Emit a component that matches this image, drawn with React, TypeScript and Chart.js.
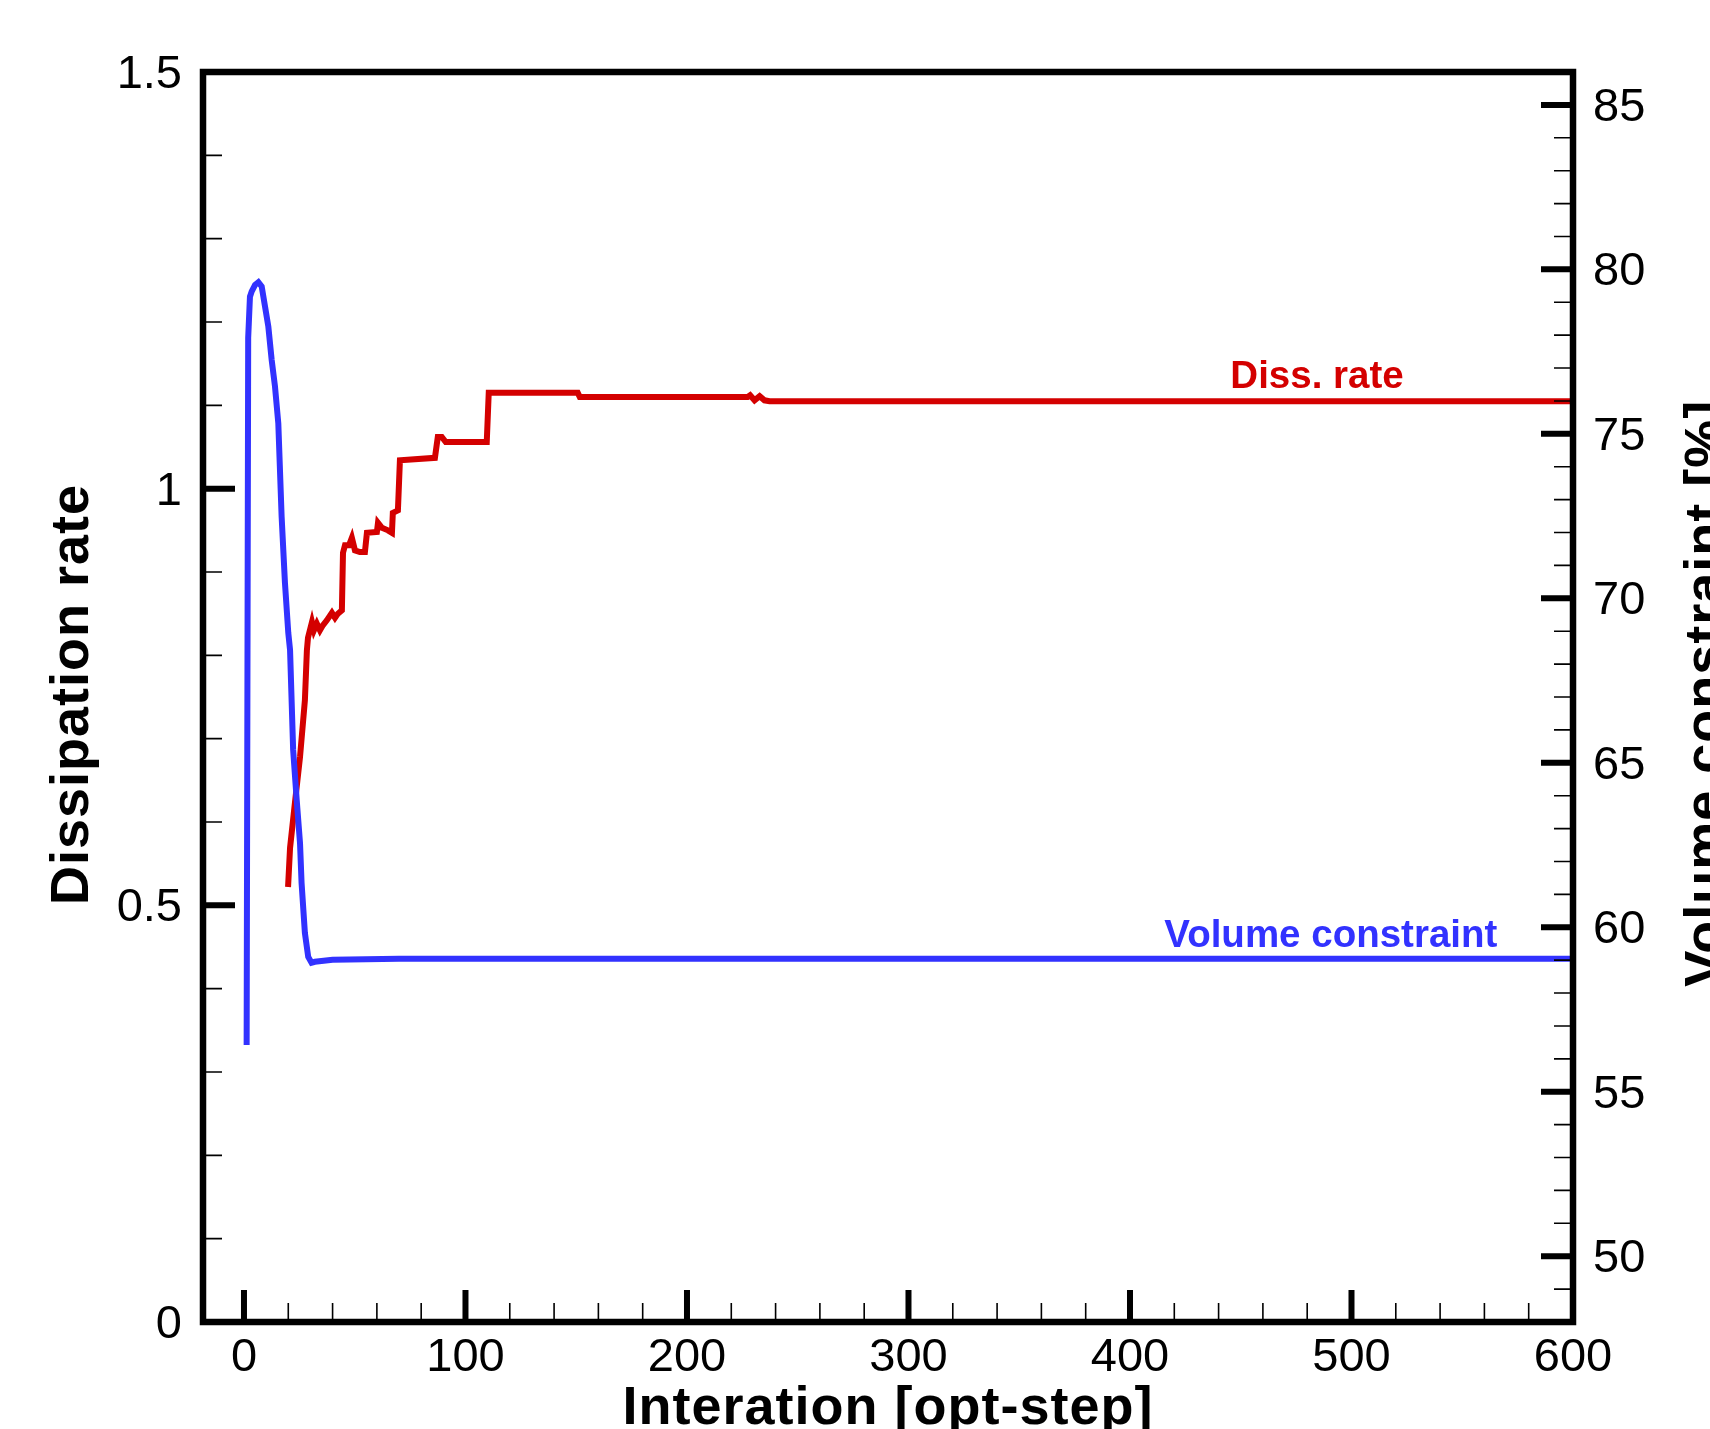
import React, { useEffect, useRef } from "react";
import { Chart, registerables } from "chart.js";

Chart.register(...registerables);

// ---- Data ----
const volIter = [1.2, 1.9, 2.7, 3.5, 5.0, 6.5, 8.0, 9.5, 11.0, 12.5, 14.0, 15.5, 17.0, 18.5, 20.0, 20.8, 22.2, 23.8, 25.3, 26.0, 27.5, 29.0, 30.5, 32.0, 40.0, 70.0, 160.0, 300.0, 450.0, 600.0];
const volValues = [56.42, 77.92, 79.17, 79.33, 79.53, 79.61, 79.48, 78.87, 78.26, 77.25, 76.44, 75.32, 72.48, 70.47, 68.95, 68.43, 65.39, 63.87, 62.56, 61.35, 59.83, 59.1, 58.92, 58.95, 59.01, 59.04, 59.04, 59.04, 59.04, 59.04];

const dissIter = [19.9, 20.8, 23.0, 25.3, 27.5, 28.4, 28.9, 30.7, 31.6, 32.9, 34.3, 35.6, 37.4, 39.7, 41.1, 42.4, 44.2, 44.7, 45.6, 47.4, 48.7, 50.1, 52.3, 54.6, 55.5, 60.0, 60.5, 62.3, 65.0, 66.8, 67.2, 69.5, 70.4, 86.2, 87.5, 89.3, 91.1, 109.6, 110.5, 150.7, 151.6, 227.4, 228.5, 230.5, 232.8, 235.0, 237.3, 600.0];
const dissValues = [0.522, 0.569, 0.623, 0.678, 0.746, 0.806, 0.821, 0.84, 0.83, 0.838, 0.83, 0.836, 0.842, 0.851, 0.845, 0.85, 0.854, 0.923, 0.932, 0.932, 0.941, 0.926, 0.924, 0.924, 0.947, 0.948, 0.959, 0.953, 0.95, 0.947, 0.971, 0.974, 1.034, 1.037, 1.062, 1.062, 1.056, 1.056, 1.115, 1.115, 1.11, 1.11, 1.112, 1.106, 1.111, 1.106, 1.105, 1.105];

const xTickValues = [0, 100, 200, 300, 400, 500, 600];
const leftTickValues = [0, 0.5, 1, 1.5];
const rightTickValues = [50, 55, 60, 65, 70, 75, 80, 85];

const xMinorStep = 20;
const leftMinorStep = 0.1;
const rightMinorStep = 1;

const xTitle = "Interation [opt-step]";
const leftTitle = "Dissipation rate";
const rightTitle = "Volume constraint [%]";

const annotTexts = ["Diss. rate", "Volume constraint"];
const annotX = [445.3, 415.5];
const annotY = [1.121, 59.4];
const annotAxis = ["y", "y1"];

const RED = "#d40000";
const BLUE = "#3232ff";
const FONT = '"Liberation Sans", Arial, Helvetica, sans-serif';

function minorValues(min: number, max: number, step: number, majors: number[]) {
  const out: number[] = [];
  const k0 = Math.ceil(min / step - 1e-9);
  const k1 = Math.floor(max / step + 1e-9);
  for (let k = k0; k <= k1; k++) {
    const v = k * step;
    if (!majors.some((m) => Math.abs(m - v) < step * 1e-3)) out.push(v);
  }
  return out;
}

const framePlugin = {
  id: "frameTicks",
  afterDatasetsDraw(chart: any) {
    const { ctx, chartArea, scales } = chart;
    const { left, right, top, bottom } = chartArea;
    const sx = scales.x, sy = scales.y, sy1 = scales.y1;
    ctx.save();
    ctx.strokeStyle = "#000";
    ctx.lineCap = "butt";

    // minor ticks
    ctx.lineWidth = 1.6;
    ctx.beginPath();
    minorValues(sx.min, sx.max, xMinorStep, xTickValues).forEach((v) => {
      const p = sx.getPixelForValue(v);
      ctx.moveTo(p, bottom);
      ctx.lineTo(p, bottom - 19);
    });
    minorValues(sy.min, sy.max, leftMinorStep, leftTickValues).forEach((v) => {
      const p = sy.getPixelForValue(v);
      ctx.moveTo(left, p);
      ctx.lineTo(left + 19, p);
    });
    minorValues(sy1.min, sy1.max, rightMinorStep, rightTickValues).forEach((v) => {
      const p = sy1.getPixelForValue(v);
      ctx.moveTo(right, p);
      ctx.lineTo(right - 19, p);
    });
    ctx.stroke();

    // major ticks
    ctx.lineWidth = 6;
    ctx.beginPath();
    xTickValues.forEach((v) => {
      const p = sx.getPixelForValue(v);
      ctx.moveTo(p, bottom);
      ctx.lineTo(p, bottom - 32);
    });
    leftTickValues.forEach((v) => {
      const p = sy.getPixelForValue(v);
      ctx.moveTo(left, p);
      ctx.lineTo(left + 32, p);
    });
    rightTickValues.forEach((v) => {
      const p = sy1.getPixelForValue(v);
      ctx.moveTo(right, p);
      ctx.lineTo(right - 32, p);
    });
    ctx.stroke();

    // frame
    ctx.lineWidth = 6.5;
    ctx.lineJoin = "miter";
    ctx.strokeRect(left, top, right - left, bottom - top);

    // annotations
    ctx.font = `bold 38.5px ${FONT}`;
    ctx.textAlign = "left";
    ctx.textBaseline = "alphabetic";
    annotTexts.forEach((t, i) => {
      const xs = sx.getPixelForValue(annotX[i]);
      const ys = scales[annotAxis[i]].getPixelForValue(annotY[i]);
      ctx.fillStyle = i === 0 ? RED : BLUE;
      ctx.fillText(t, xs, ys);
    });

    // axis titles
    ctx.fillStyle = "#000";
    ctx.font = `bold 54px ${FONT}`;
    if ("letterSpacing" in ctx) (ctx as any).letterSpacing = "1px";
    ctx.textAlign = "center";
    ctx.fillText(xTitle, (left + right) / 2, 1424);

    ctx.save();
    ctx.translate(88, top + (bottom - top) * 0.498);
    ctx.rotate(-Math.PI / 2);
    ctx.fillText(leftTitle, 0, 0);
    ctx.restore();

    ctx.save();
    ctx.translate(1722, top + (bottom - top) * 0.497);
    ctx.rotate(-Math.PI / 2);
    ctx.fillText(rightTitle, 0, 0);
    ctx.restore();

    if ("letterSpacing" in ctx) (ctx as any).letterSpacing = "0px";
    ctx.restore();
  },
};

function fixedTicks(values: number[]) {
  return (scale: any) => {
    scale.ticks = values.map((v) => ({ value: v }));
  };
}

export default function App() {
  const canvasRef = useRef<HTMLCanvasElement | null>(null);

  useEffect(() => {
    document.body.style.margin = "0";
    const canvas = canvasRef.current;
    if (!canvas) return;

    const tickFont = { family: FONT, size: 47, weight: "normal" as const, lineHeight: 1 };

    const chart = new Chart(canvas, {
      type: "line",
      data: {
        datasets: [
          {
            label: "Volume constraint",
            data: volIter.map((x, i) => ({ x, y: volValues[i] })),
            yAxisID: "y1",
            borderColor: BLUE,
            backgroundColor: BLUE,
            borderWidth: 6,
            pointRadius: 0,
            tension: 0,
            fill: false,
          },
          {
            label: "Diss. rate",
            data: dissIter.map((x, i) => ({ x, y: dissValues[i] })),
            yAxisID: "y",
            borderColor: RED,
            backgroundColor: RED,
            borderWidth: 6,
            pointRadius: 0,
            tension: 0,
            fill: false,
          },
        ],
      },
      options: {
        responsive: false,
        animation: false,
        devicePixelRatio: 1,
        layout: { padding: { top: 72, left: 0, right: 0, bottom: 0 } },
        plugins: { legend: { display: false }, tooltip: { enabled: false }, title: { display: false } },
        scales: {
          x: {
            type: "linear",
            position: "bottom",
            min: -18.5,
            max: 600,
            grid: { display: false, drawTicks: false },
            border: { display: false },
            afterBuildTicks: fixedTicks(xTickValues),
            afterFit: (scale: any) => {
              scale.height = 107;
            },
            ticks: {
              autoSkip: false,
              maxRotation: 0,
              minRotation: 0,
              padding: 13,
              color: "#000",
              font: tickFont,
              callback: (v: any) => String(v),
            },
          },
          y: {
            type: "linear",
            position: "left",
            min: 0,
            max: 1.5,
            grid: { display: false, drawTicks: false },
            border: { display: false },
            afterBuildTicks: fixedTicks(leftTickValues),
            afterFit: (scale: any) => {
              scale.width = 203;
            },
            ticks: {
              autoSkip: false,
              padding: 21,
              labelOffset: 3,
              color: "#000",
              font: tickFont,
              callback: (v: any) => String(v),
            },
          },
          y1: {
            type: "linear",
            position: "right",
            min: 48,
            max: 86,
            grid: { display: false, drawTicks: false },
            border: { display: false },
            afterBuildTicks: fixedTicks(rightTickValues),
            afterFit: (scale: any) => {
              scale.width = 137;
            },
            ticks: {
              autoSkip: false,
              padding: 20,
              labelOffset: 3,
              color: "#000",
              font: tickFont,
              callback: (v: any) => String(v),
            },
          },
        },
      },
      plugins: [framePlugin],
    });

    return () => {
      chart.destroy();
    };
  }, []);

  return (
    <div style={{ position: "absolute", left: 0, top: 0, width: 1710, height: 1429, background: "#fff" }}>
      <canvas ref={canvasRef} width={1710} height={1429} style={{ display: "block" }} />
    </div>
  );
}
